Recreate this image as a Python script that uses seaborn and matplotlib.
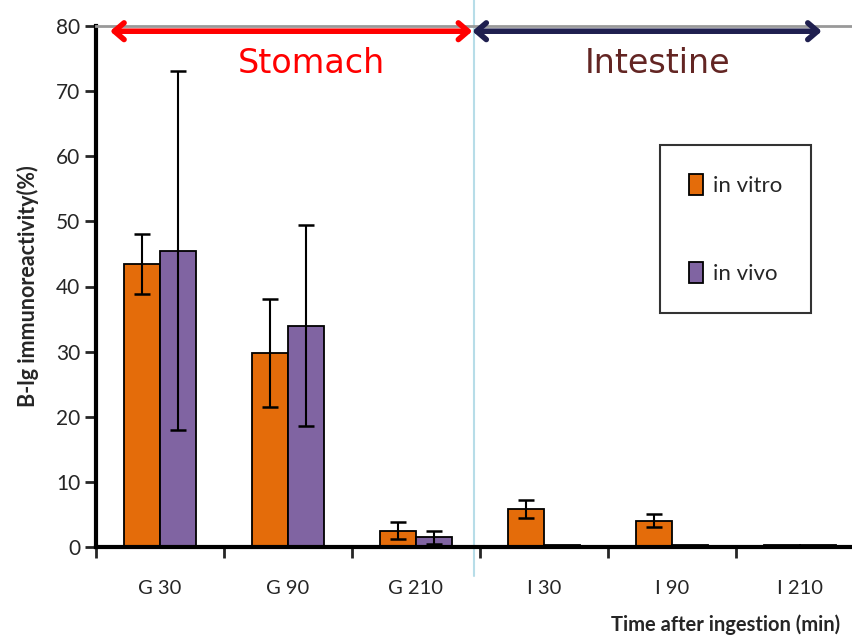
import pandas as pd
import matplotlib
matplotlib.use("Agg")
import matplotlib.pyplot as plt
import seaborn as sns

# datos
categories = ["G 30", "G 90", "G 210", "I 30", "I 90", "I 210"]
in_vitro = [43.5, 29.8, 2.5, 5.8, 4.0, 0.3]
in_vitro_err = [4.6, 8.25, 1.3, 1.4, 1.0, 0.0]
in_vivo = [45.5, 34.0, 1.5, 0.3, 0.3, 0.3]
in_vivo_err = [27.6, 15.45, 1.0, 0.0, 0.0, 0.0]
series = ["in vitro", "in vivo"]
colors = ["#E46C0A", "#8064A2"]

df = pd.DataFrame({
    "Time": categories * 2,
    "value": in_vitro + in_vivo,
    "serie": [series[0]] * 6 + [series[1]] * 6,
})

sns.set_style("white")
plt.rcParams["font.family"] = ["Lato", "DejaVu Sans"]

fig = plt.figure(figsize=(8.53, 6.39), dpi=100)
ax = fig.add_axes([96 / 853, 1 - 547 / 639, 1 - 96 / 853, (547 - 26) / 639])

sns.barplot(data=df, x="Time", y="value", hue="serie", palette=colors,
            width=0.56, edgecolor="black", linewidth=1.3, ax=ax,
            errorbar=None, saturation=1)

# barras de error a partir de las barras dibujadas
for cont, errs in zip(ax.containers, [in_vitro_err, in_vivo_err]):
    for bar, e in zip(cont, errs):
        if e > 0:
            ax.errorbar(bar.get_x() + bar.get_width() / 2, bar.get_height(), yerr=e,
                        fmt="none", ecolor="black", elinewidth=1.5, capsize=6, capthick=1.8)

ax.set_ylim(0, 80)
ax.set_xlim(-0.5, -0.5 + (853 - 96) / 128)
ax.set_yticks(range(0, 81, 10))
ax.tick_params(axis="y", direction="out", length=8, width=2, labelsize=15, left=True)
ax.set_xticks(range(6))
ax.set_xticklabels(categories)
ax.tick_params(axis="x", which="major", length=0, labelsize=14.5, pad=24)
ax.set_xticks([i - 0.5 for i in range(6)], minor=True)
ax.tick_params(axis="x", which="minor", direction="out", length=8, width=2, bottom=True)

for s in ["left", "bottom"]:
    ax.spines[s].set_color("black")
    ax.spines[s].set_linewidth(3)
ax.spines["top"].set_color("#999999")
ax.spines["top"].set_linewidth(2)
ax.spines["right"].set_visible(False)

# linea separadora estomago / intestino
ax.axvline(2.45, ymin=-0.056, ymax=1.06, color="#B7DDE8", lw=1.5, zorder=0, clip_on=False)

# flechas de zona
ax.annotate("", xy=(-0.39, 79.2), xytext=(2.44, 79.2),
            arrowprops=dict(arrowstyle="<->,head_length=0.7,head_width=0.6",
                            color="#FF0000", lw=4, shrinkA=0, shrinkB=0))
ax.annotate("", xy=(2.44, 79.2), xytext=(5.17, 79.2),
            arrowprops=dict(arrowstyle="<->,head_length=0.7,head_width=0.6",
                            color="#1F1F4F", lw=4, shrinkA=0, shrinkB=0))
ax.text(1.18, 74.2, "Stomach", color="#FF0000", fontsize=24, ha="center", va="center",
        family=["DejaVu Sans"])
ax.text(3.89, 74.2, "Intestine", color="#632523", fontsize=24, ha="center", va="center",
        family=["DejaVu Sans"])

ax.set_ylabel("B-lg immunoreactivity(%)", fontsize=15.5, fontweight="bold", labelpad=12)
ax.set_xlabel("")
fig.text(840 / 853, 1 - 625 / 639, "Time after ingestion (min)", fontsize=14.5,
         fontweight="bold", ha="right", va="center")

leg = ax.legend(loc="upper left", bbox_to_anchor=(660 / 853, 1 - 145 / 639),
                bbox_transform=fig.transFigure, fontsize=16, frameon=True,
                borderpad=1.3, labelspacing=2.95, handlelength=0.65, handleheight=1.1,
                handletextpad=0.45, borderaxespad=0, fancybox=False)
leg.get_frame().set_edgecolor("black")
leg.get_frame().set_linewidth(1.5)

fig.savefig("out.png", dpi=100)
